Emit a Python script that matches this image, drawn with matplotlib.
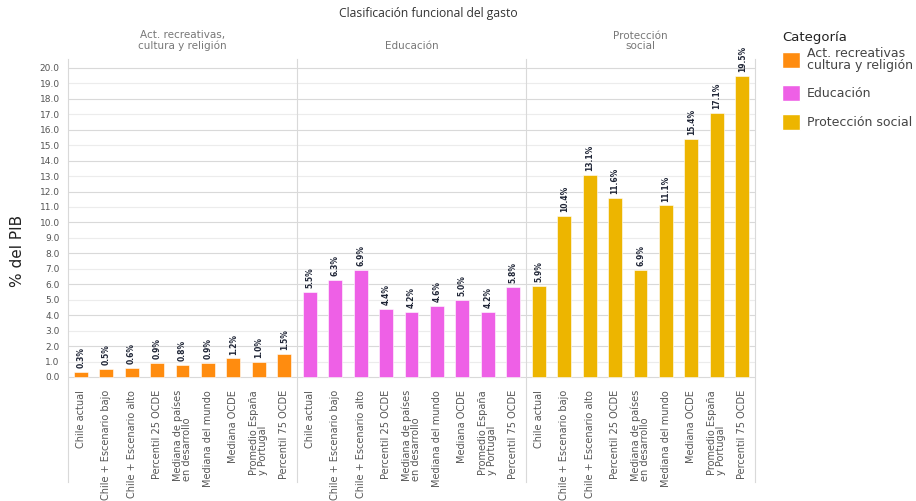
import matplotlib.pyplot as plt
import matplotlib.transforms as mtransforms
from matplotlib.lines import Line2D
from matplotlib.patches import Patch

# datos
categorias = ['Act. recreativas\ncultura y religión', 'Educación', 'Protección social']
titulos_panel = ['Act. recreativas,\ncultura y religión', 'Educación', 'Protección\nsocial']
escenarios = ['Chile actual', 'Chile + Escenario bajo', 'Chile + Escenario alto',
              'Percentil 25 OCDE', 'Mediana de países\nen desarrollo', 'Mediana del mundo',
              'Mediana OCDE', 'Promedio España\ny Portugal', 'Percentil 75 OCDE']
act_recreativas = [0.3, 0.5, 0.6, 0.9, 0.8, 0.9, 1.2, 1.0, 1.5]
educacion = [5.5, 6.3, 6.9, 4.4, 4.2, 4.6, 5.0, 4.2, 5.8]
proteccion = [5.9, 10.4, 13.1, 11.6, 6.9, 11.1, 15.4, 17.1, 19.5]
colores = ['#FF8C0F', '#EE60E6', '#EDB500']

series = [act_recreativas, educacion, proteccion]
n = len(escenarios)

fig = plt.figure(figsize=(9.16, 5.01), dpi=100)
ax = fig.add_axes([68 / 916, 0.2383, (755 - 68) / 916, 0.883 - 0.2383])

# rejilla horizontal
for v in range(0, 21):
    ax.axhline(v, color='#d9d9d9' if v % 2 == 0 else '#ececec', lw=0.8, zorder=0)

xticks = []
xlabels = []
for i, (vals, col) in enumerate(zip(series, colores)):
    xs = [i * n + j for j in range(n)]
    ax.bar(xs, vals, width=0.55, color=col, edgecolor='white', linewidth=0.4, zorder=2)
    for x, v in zip(xs, vals):
        ax.text(x, v + 0.25, f'{v:.1f}%', rotation=90, ha='center', va='bottom',
                fontsize=5.5, fontweight='bold', color='#1f2536')
    xticks += xs
    xlabels += escenarios

ax.set_xlim(-0.5, 3 * n - 0.5)
ax.set_ylim(-0.3, 20.6)
ax.set_yticks(range(0, 21))
ax.set_yticklabels([f'{v:.1f}' for v in range(0, 21)], fontsize=6.5, color='#555555')
ax.set_xticks(xticks)
ax.set_xticklabels(xlabels, rotation=90, fontsize=7, color='#555555',
                   va='top', ha='center', multialignment='left', linespacing=0.9)
ax.tick_params(length=0, pad=6)
for s in ax.spines.values():
    s.set_visible(False)

# separadores de paneles
trans = mtransforms.blended_transform_factory(ax.transData, ax.transAxes)
for x in [-0.5, n - 0.5, 2 * n - 0.5, 3 * n - 0.5]:
    ax.add_line(Line2D([x, x], [-0.31, 1.0], transform=trans, color='#d9d9d9',
                       lw=0.8, clip_on=False))

for i, t in enumerate(titulos_panel):
    ax.text(i * n + (n - 1) / 2, 1.025, t, transform=trans, ha='center', va='bottom',
            fontsize=7.5, color='#777777', linespacing=0.95)

fig.text(428 / 916, 1 - 14 / 501, 'Clasificación funcional del gasto', ha='center',
         va='center', fontsize=8.7, color='#333333', family='Open Sans')
fig.text(18 / 916, 250 / 501, '% del PIB', rotation=90, ha='center', va='center',
         fontsize=11, color='#222222')

# leyenda
fig.text(782 / 916, 1 - 38 / 501, 'Categoría', ha='left', va='center',
         fontsize=9.5, color='#222222')
handles = [Patch(facecolor=c, edgecolor='white') for c in colores]
leg = fig.legend(handles, categorias, loc='upper left', bbox_to_anchor=(771 / 916, 1 - 36 / 501),
                 frameon=False, fontsize=9, handlelength=1.4, handleheight=1.6,
                 labelspacing=1.05, handletextpad=0.6)
for t in leg.get_texts():
    t.set_color('#444444')
    t.set_linespacing(0.85)

fig.savefig('out.png', dpi=100)
